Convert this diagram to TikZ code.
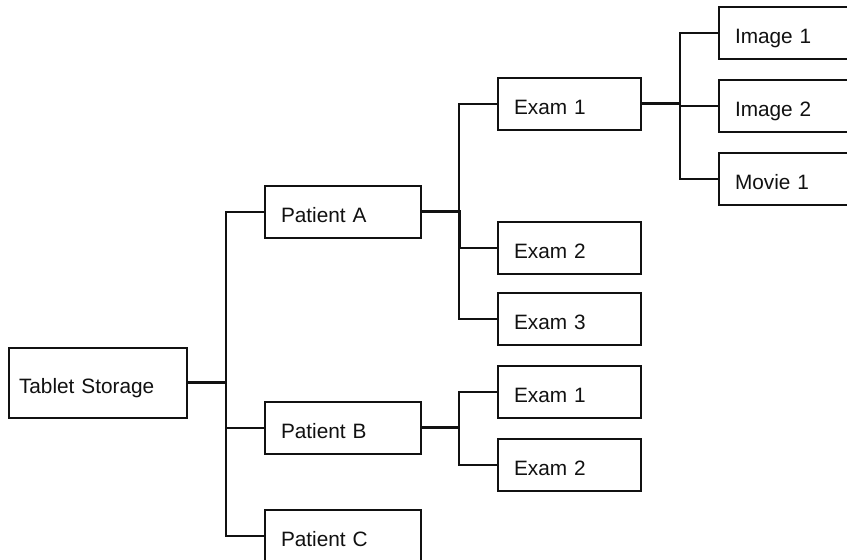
\documentclass[tikz,border=0pt]{standalone}
\usepackage{fontspec}
\setmainfont{Liberation Sans}
\usepackage{xcolor}
\usepackage{tikz}
\usetikzlibrary{positioning}
\definecolor{tsink}{HTML}{111111}

\begin{document}
\begin{tikzpicture}[
  x=0.5pt, y=-0.5pt,
  font=\fontsize{10.4}{12}\selectfont,
  box/.style={draw=tsink, line width=1pt, anchor=north west, minimum height=26pt,
    inner xsep=8pt, text width=55.5pt, align=left, text height=1.1em,
    text depth=0pt, text=tsink, fill=white},
  wide/.style={text width=62pt},
  link/.style={draw=tsink, line width=0.9pt},
  trunk/.style={draw=tsink, line width=1.5pt},
  ]
  \useasboundingbox (0,0) rectangle (847,560);
  \clip (0,0) rectangle (847,560);
  \node[box, minimum height=35pt, inner xsep=5pt, text width=79pt] (store) at (8,347) {Tablet Storage};
  \node[box, wide] (pa) at (264,185) {Patient A};
  \node[box, wide] (pb) at (264,401) {Patient B};
  \node[box, wide] (pc) at (264,509) {Patient C};
  \node[box] (pa1) at (497,77) {Exam 1};
  \node[box] (pa2) at (497,221) {Exam 2};
  \node[box, below=8.5pt of pa2] (pa3) {Exam 3};
  \node[box] (pb1) at (497,365) {Exam 1};
  \node[box, below=9.5pt of pb1] (pb2) {Exam 2};
  \node[box] (img1) at (718,6) {Image 1};
  \node[box, below=9.5pt of img1] (img2) {Image 2};
  \node[box, below=9.5pt of img2] (mov1) {Movie 1};
  \coordinate (sbus) at (226,0);
  \coordinate (abus) at (459,0);
  \coordinate (ebus) at (680,0);
  \draw[trunk] (store.east) -- (store.east -| sbus);
  \draw[link] (pa.west) -| (sbus |- pc.west) -- (pc.west);
  \draw[link] (pb.west) -- (pb.west -| sbus);
  \draw[link] (pa1.west) -| (abus |- pa3.west) -- (pa3.west);
  \draw[link] (pa2.west) -- (pa2.west -| abus);
  \draw[trunk] (pa.east) -- (pa.east -| abus) -- (abus |- pa2.west);
  \draw[link] (pb1.west) -| (abus |- pb2.west) -- (pb2.west);
  \draw[trunk] (pb.east) -- (pb.east -| abus);
  \draw[link] (img1.west) -| (ebus |- mov1.west) -- (mov1.west);
  \draw[link] (img2.west) -- (img2.west -| ebus);
  \draw[trunk] (pa1.east) -- (pa1.east -| ebus);
\end{tikzpicture}
\end{document}
